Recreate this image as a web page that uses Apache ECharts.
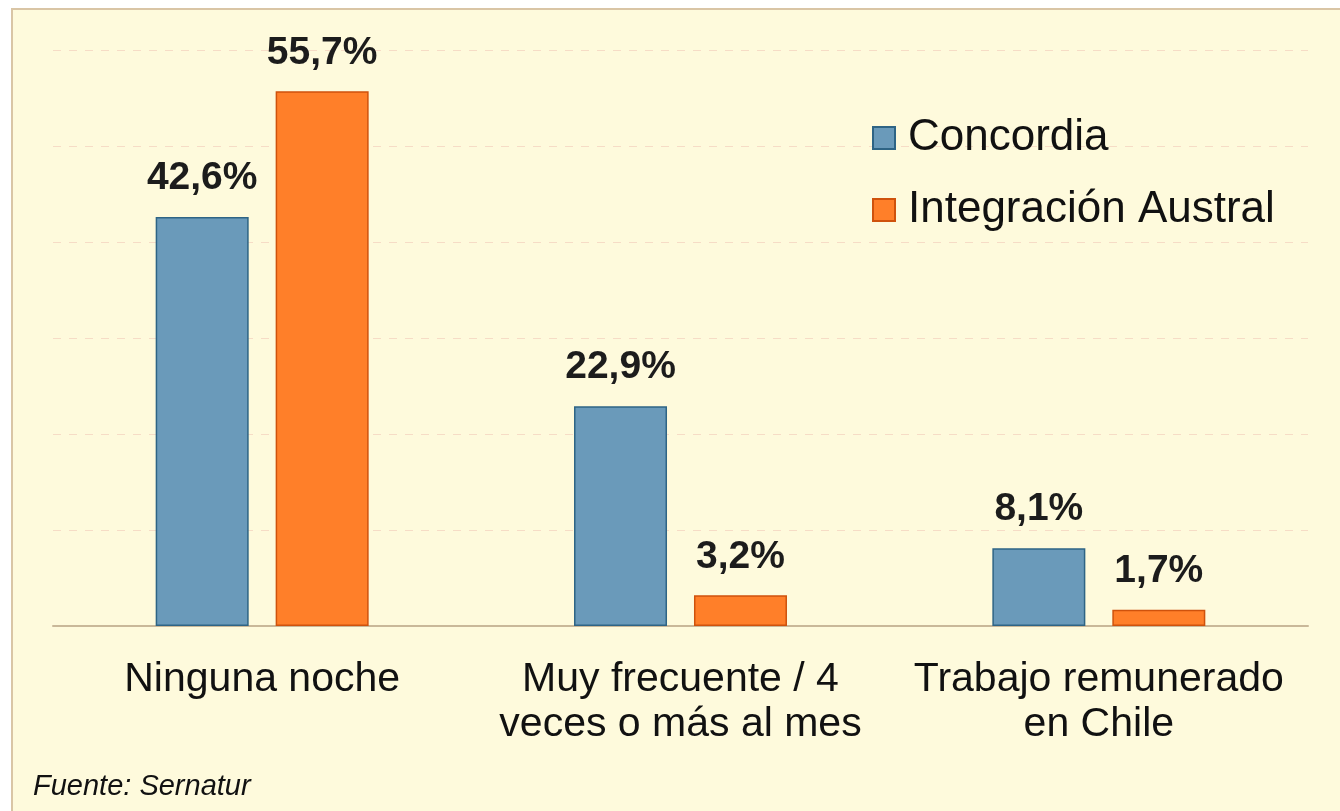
<!DOCTYPE html>
<html>
<head>
<meta charset="utf-8">
<script src="https://cdn.jsdelivr.net/npm/echarts@6/dist/echarts.min.js"></script>
<style>
  html, body { margin: 0; padding: 0; background: #ffffff; }
  #frame {
    position: absolute; left: 11px; top: 8px; width: 1340px; height: 820px;
    background: #fefadc; border: 2px solid #d9c5a5; box-sizing: border-box;
  }
  #chart { position: absolute; left: 0; top: 0; width: 1340px; height: 811px; }
</style>
</head>
<body>
<div id="frame"></div>
<div id="chart"></div>
<script>
var categories = ["Ninguna noche", "Muy frecuente / 4\nveces o más al mes", "Trabajo remunerado\nen Chile"];
var concordia = [42.6, 22.9, 8.1];
var austral = [55.7, 3.2, 1.7];
var seriesNames = ["Concordia", "Integración Austral"];

function fmt(p) {
  return p.value.toFixed(1).replace(".", ",") + "%";
}

var chart = echarts.init(document.getElementById("chart"));
var labelStyle = {
  show: true,
  position: "top",
  distance: 19,
  formatter: fmt,
  fontFamily: "Liberation Sans",
  fontWeight: "bold",
  fontSize: 39,
  color: "#1c1c1c"
};

var option = {
  animation: false,
  grid: { left: 53, right: 32, top: 50, bottom: 185 },
  title: {
    text: "Fuente: Sernatur",
    left: 28,
    top: 767,
    textStyle: {
      fontFamily: "Liberation Sans",
      fontStyle: "italic",
      fontWeight: "normal",
      fontSize: 29,
      color: "#111"
    }
  },
  legend: {
    orient: "vertical",
    left: 867,
    top: 111,
    itemWidth: 22,
    itemHeight: 22,
    itemGap: 28,
    icon: "rect",
    data: seriesNames,
    textStyle: {
      fontFamily: "Liberation Sans",
      fontSize: 44,
      lineHeight: 44,
      color: "#111",
      padding: [0, 0, 0, 8]
    }
  },
  xAxis: {
    type: "category",
    data: categories,
    axisTick: { show: false },
    axisLine: { lineStyle: { color: "#c9b899", width: 2 } },
    axisLabel: {
      interval: 0,
      hideOverlap: false,
      margin: 31,
      fontFamily: "Liberation Sans",
      fontSize: 41,
      lineHeight: 45,
      color: "#111"
    }
  },
  yAxis: {
    type: "value",
    min: 0,
    max: 60,
    interval: 10,
    axisLabel: { show: false },
    axisLine: { show: false },
    axisTick: { show: false },
    splitLine: { lineStyle: { color: "#f6dcc6", type: [8, 8], width: 1 } }
  },
  series: [
    {
      name: seriesNames[0],
      type: "bar",
      data: concordia,
      barWidth: 93,
      barGap: "29%",
      itemStyle: { color: "#6a9aba", borderColor: "#2e6485", borderWidth: 1.5 },
      label: labelStyle
    },
    {
      name: seriesNames[1],
      type: "bar",
      data: austral,
      barWidth: 93,
      itemStyle: { color: "#ff7f29", borderColor: "#cf520c", borderWidth: 1.5 },
      label: labelStyle
    }
  ]
};
chart.setOption(option);
</script>
</body>
</html>
